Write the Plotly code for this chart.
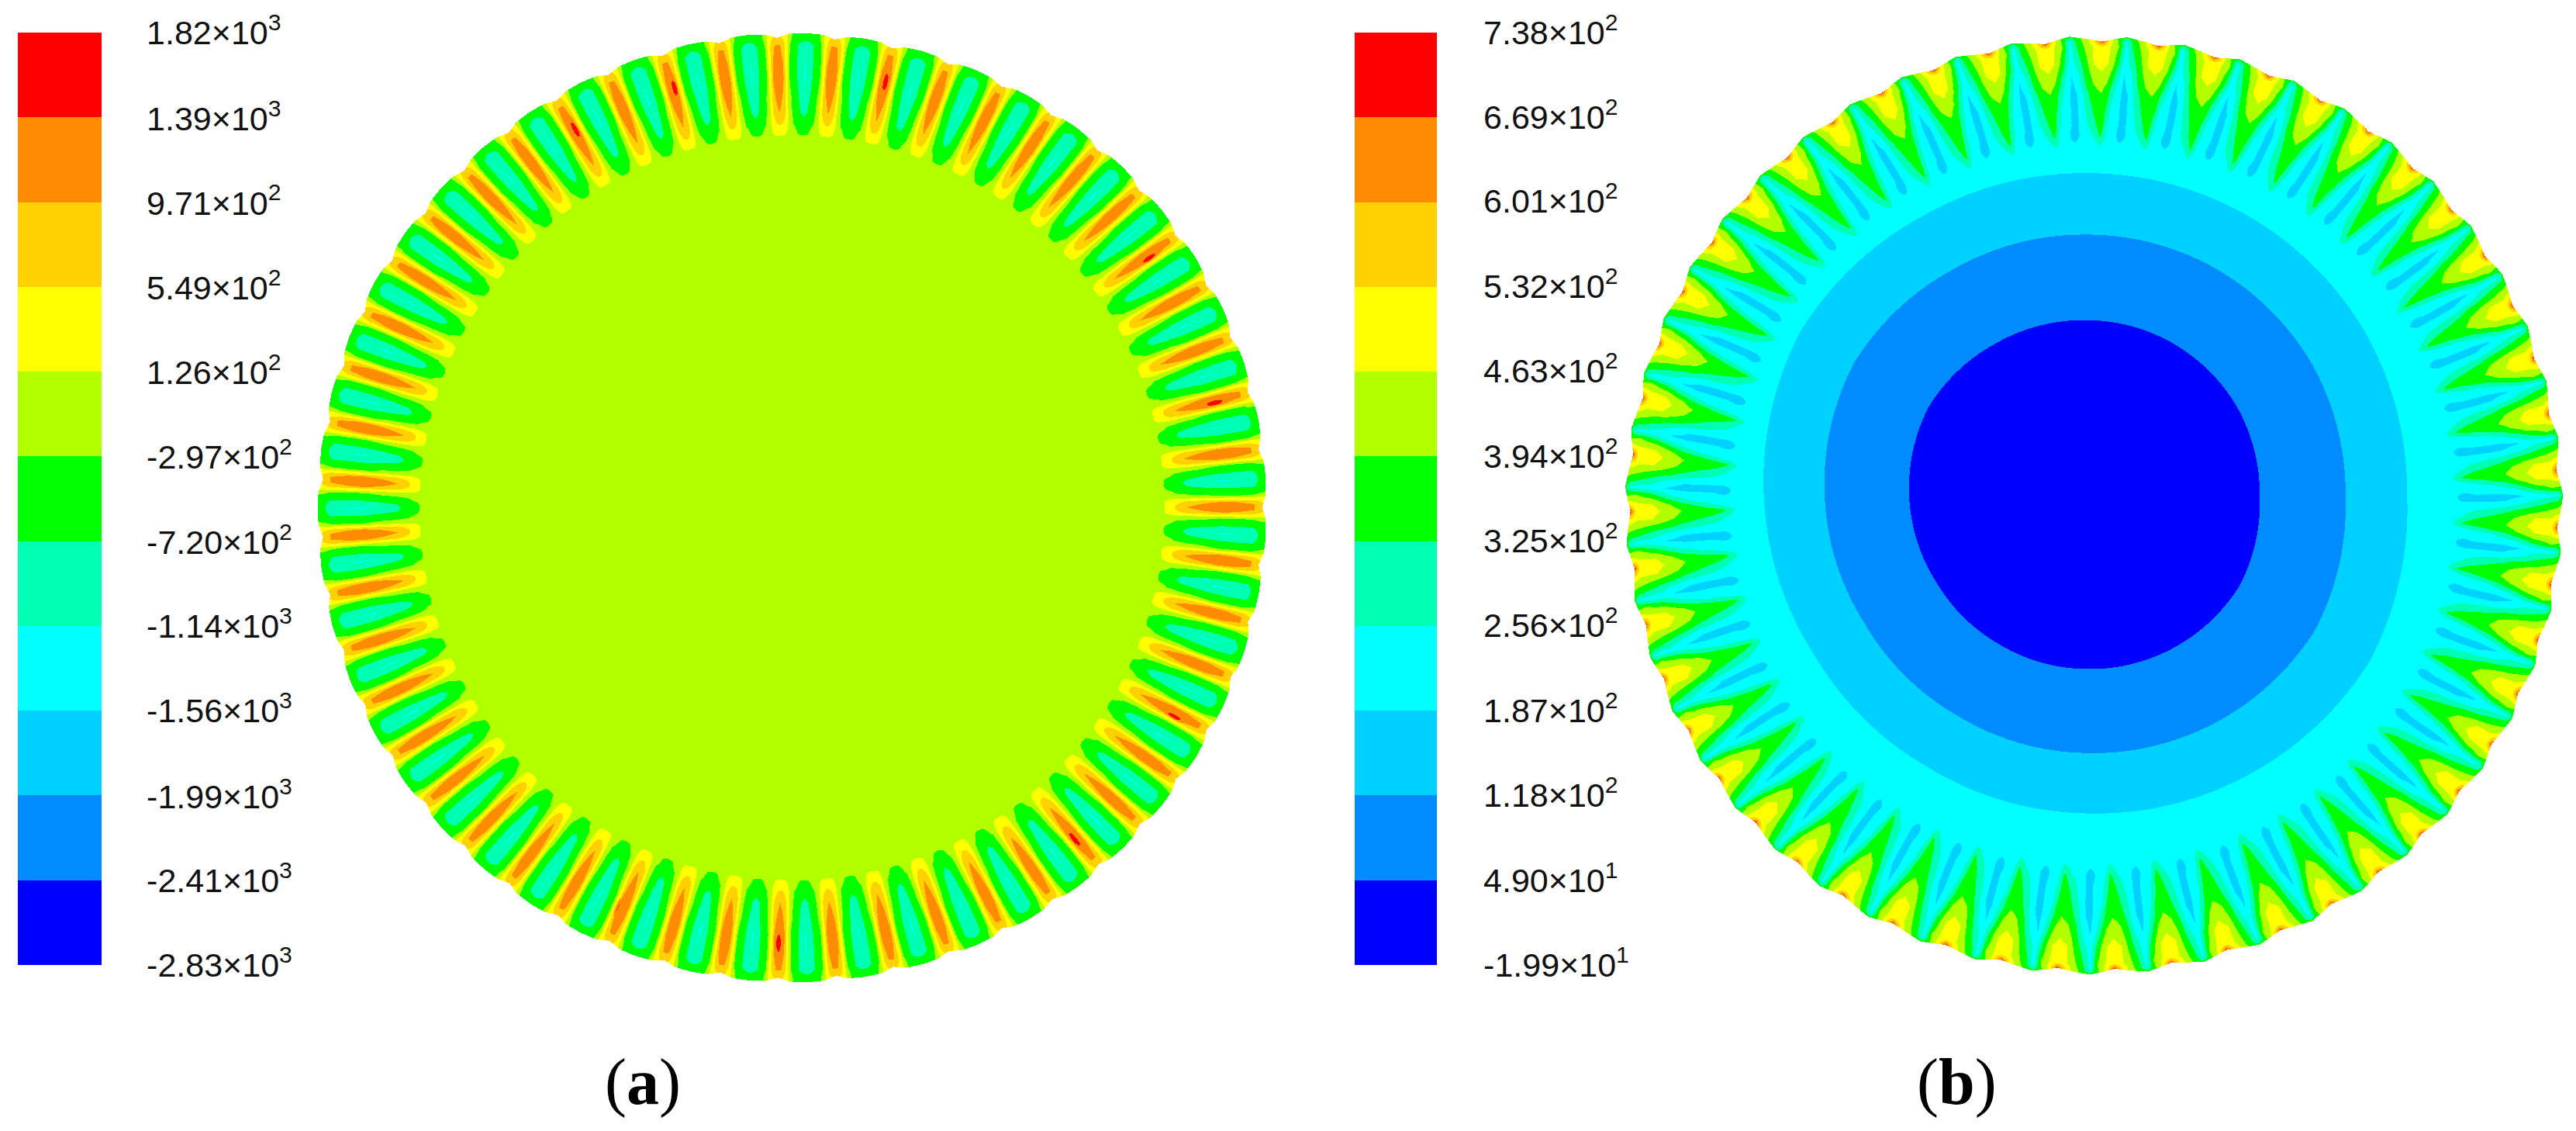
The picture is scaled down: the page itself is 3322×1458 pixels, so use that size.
import numpy as np
import plotly.graph_objects as go

WIDTH, HEIGHT = 3322, 1458

# --- legend data -----------------------------------------------------------
levels_a = [1820, 1390, 971, 549, 126, -297, -720, -1140, -1560, -1990, -2410, -2830]
labels_a = ["1.82×10<sup>3</sup>", "1.39×10<sup>3</sup>", "9.71×10<sup>2</sup>", "5.49×10<sup>2</sup>",
            "1.26×10<sup>2</sup>", "-2.97×10<sup>2</sup>", "-7.20×10<sup>2</sup>", "-1.14×10<sup>3</sup>",
            "-1.56×10<sup>3</sup>", "-1.99×10<sup>3</sup>", "-2.41×10<sup>3</sup>", "-2.83×10<sup>3</sup>"]
levels_b = [738, 669, 601, 532, 463, 394, 325, 256, 187, 118, 49, -19.9]
labels_b = ["7.38×10<sup>2</sup>", "6.69×10<sup>2</sup>", "6.01×10<sup>2</sup>", "5.32×10<sup>2</sup>",
            "4.63×10<sup>2</sup>", "3.94×10<sup>2</sup>", "3.25×10<sup>2</sup>", "2.56×10<sup>2</sup>",
            "1.87×10<sup>2</sup>", "1.18×10<sup>2</sup>", "4.90×10<sup>1</sup>", "-1.99×10<sup>1</sup>"]
band_colors = ["#0000ff", "#008bff", "#00d1ff", "#00ffff", "#00ffb2", "#00ff00",
               "#b2ff00", "#ffff00", "#ffd100", "#ff8b00", "#ff0000"]  # low to high

# --- panel (a): one blade passage -------------------------------------------
n_passages = 51
first_passage_deg_a = 1.7        # clockwise from 12 o'clock
radii_a = [474, 482, 495, 510, 530, 553, 575, 596, 606, 616]
phase_a = [0, .07, .14, .21, .285, .32, .37, .40, .45, .5]   # 0 passage centre, .5 ridge
passage_a = [
    [0, 0, 0, 0, 0, 0, 0, 0, 0, 0],
    [-380, -340, -250, -120, -50, 60, 130, 160, 170, 170],
    [-620, -540, -380, -300, -120, 120, 320, 450, 560, 600],
    [-780, -720, -520, -340, -220, 130, 520, 700, 900, 980],
    [-1000, -850, -620, -350, -250, 140, 560, 900, 1020, 1100],
    [-1180, -950, -720, -430, -297, 126, 549, 971, 1150, 1250],
    [-1150, -950, -740, -440, -297, 130, 549, 950, 1100, 1200],
    [-900, -850, -720, -420, -280, 130, 500, 800, 980, 1000],
    [-600, -560, -500, -380, -200, 130, 300, 500, 650, 700],
    [-420, -400, -380, -340, -150, 120, 260, 350, 420, 450],
]
rim_phase_a = [0, .285, .5]
rim_radius_a = [612, 611, 606]
hot_spot_deg_a = [12.4, 344.4, 330.2, 55.1, 76.1, 118.7, 139.6, 181.8, 203.7]

# --- panel (b) --------------------------------------------------------------
first_wedge_deg_b = 1.0
radii_b = [455, 466, 478, 490, 510, 531, 550, 570, 591, 598, 604, 612]
phase_b = [0, .12, .2, .3, .43, .55, .7, .85, 1]      # 0 and 1 wedge centre, .43 ray
passage_b = [
    [210, 210, 210, 210, 210, 210, 210, 210, 210],
    [270, 225, 220, 215, 205, 215, 220, 230, 270],
    [340, 245, 225, 215, 115, 195, 225, 265, 340],
    [365, 265, 230, 220, 165, 190, 245, 305, 365],
    [380, 310, 240, 225, 165, 190, 270, 335, 380],
    [392, 350, 285, 225, 168, 192, 300, 370, 392],
    [440, 405, 350, 265, 180, 225, 340, 410, 440],
    [490, 465, 420, 340, 215, 285, 365, 465, 490],
    [510, 480, 440, 395, 225, 325, 405, 470, 510],
    [690, 520, 450, 385, 240, 340, 420, 510, 690],
    [700, 520, 440, 370, 330, 370, 440, 520, 700],
    [700, 520, 440, 370, 330, 370, 440, 520, 700],
]
rim_phase_b = [0, .43, 1]
rim_radius_b = [598, 605, 598]
core_radii_b = [0, 226, 336, 415, 470]
core_values_b = [-10, 49, 118, 187, 215]
core_shape_deg_b = [0, 30, 60, 90, 120, 150, 180, 210, 240, 270, 300, 330, 360]
core_shape_b = [283, 285, 286, 284, 290, 284, 278, 274, 274, 280, 287, 283, 283]


def lookup(rows, cols, table, r, c):
    """Read the passage table at radius r and phase c."""
    rows, cols, table = np.asarray(rows, float), np.asarray(cols, float), np.asarray(table, float)
    r = np.clip(r, rows[0], rows[-1])
    c = np.clip(c, cols[0], cols[-1])
    i = np.clip(np.searchsorted(rows, r) - 1, 0, len(rows) - 2)
    j = np.clip(np.searchsorted(cols, c) - 1, 0, len(cols) - 2)
    fr = (r - rows[i]) / (rows[i + 1] - rows[i])
    fc = (c - cols[j]) / (cols[j + 1] - cols[j])
    return (table[i, j] * (1 - fr) * (1 - fc) + table[i + 1, j] * fr * (1 - fc)
            + table[i, j + 1] * (1 - fr) * fc + table[i + 1, j + 1] * fr * fc)


STEP = 1.0
grid_a = np.arange(-640, 640 + STEP, STEP)
grid_b = np.arange(-620, 620 + STEP, STEP)
pitch = 360.0 / n_passages


def field_a():
    X, Y = np.meshgrid(grid_a, grid_a)
    r = np.hypot(X, Y)
    th = np.degrees(np.arctan2(X, Y)) % 360
    u = ((th - first_passage_deg_a) / pitch + 0.5) % 1 - 0.5
    au = np.abs(u)
    z = lookup(radii_a, phase_a, passage_a, r, au)
    for deg in hot_spot_deg_a:
        dth = (th - deg + 180) % 360 - 180
        spot = np.clip(1 - np.hypot((r - 562) / 14, dth * np.pi / 180 * 560 / 4), 0, 1)
        z = z + 420 * np.minimum(spot * 2, 1)
    z[r > np.interp(au, rim_phase_a, rim_radius_a)] = np.nan
    return z


def field_b():
    X, Y = np.meshgrid(grid_b, grid_b)
    r = np.hypot(X, Y)
    th = np.degrees(np.arctan2(X, Y)) % 360
    u = ((th - first_wedge_deg_b) / pitch) % 1
    z = lookup(radii_b, phase_b, passage_b, r, u)
    Xc, Yc = X + 14, Y - 12
    rc = np.hypot(Xc, Yc)
    thc = np.degrees(np.arctan2(Xc, Yc)) % 360
    shape = np.interp(thc, core_shape_deg_b, core_shape_b) / 282.0
    core = np.interp(rc / shape, core_radii_b, core_values_b)
    z = np.where(r < 455, core, z)
    z[r > np.interp(u, rim_phase_b, rim_radius_b)] = np.nan
    return z


def stepped_scale(colors):
    n = len(colors)
    scale = []
    for k, col in enumerate(colors):
        scale += [[k / n, col], [(k + 1) / n, col]]
    return scale


def bar(x_left, width, levels, labels, pad):
    return dict(
        x=x_left / WIDTH, xanchor="left", xref="paper",
        y=(HEIGHT - 1244) / HEIGHT, yanchor="bottom", yref="paper",
        thickness=width, thicknessmode="pixels",
        len=1202, lenmode="pixels", xpad=0, ypad=0,
        outlinewidth=0, borderwidth=0,
        tickmode="array", tickvals=levels, ticktext=labels,
        ticks="outside", ticklen=pad, tickwidth=1, tickcolor="rgba(255,255,255,0)",
        tickfont=dict(family="Liberation Sans", size=43, color="#111111"),
    )


def field_trace(x, z, levels, labels, xaxis, yaxis, bar_x, bar_w, pad):
    return go.Heatmap(
        x=x, y=x, z=z.astype("float32"), xaxis=xaxis, yaxis=yaxis,
        zmin=levels[-1], zmax=levels[0], zauto=False,
        colorscale=stepped_scale(band_colors),
        hoverinfo="skip", colorbar=bar(bar_x, bar_w, levels, labels, pad),
    )


fig = go.Figure()
fig.add_trace(field_trace(grid_a, field_a(), levels_a, labels_a, "x", "y", 23, 108, 50))
fig.add_trace(field_trace(grid_b, field_b(), levels_b, labels_b, "x2", "y2", 1747, 106, 52))


def panel_axes(cx, cy, half):
    top = HEIGHT - cy
    xd = [(cx - half) / WIDTH, (cx + half) / WIDTH]
    yd = [(top - half) / HEIGHT, (top + half) / HEIGHT]
    common = dict(visible=False, range=[-half, half], fixedrange=True)
    return dict(common, domain=xd), dict(common, domain=yd)


xa, ya = panel_axes(1021, 654, 640)
xb, yb = panel_axes(2700, 651, 620)

caption_font = dict(family="Liberation Serif", size=84, color="#000000")
fig.update_layout(
    width=WIDTH, height=HEIGHT, autosize=False,
    margin=dict(l=0, r=0, t=0, b=0, pad=0, autoexpand=False),
    paper_bgcolor="white", plot_bgcolor="rgba(0,0,0,0)",
    showlegend=False,
    xaxis=dict(xa, anchor="y"), yaxis=dict(ya, anchor="x"),
    xaxis2=dict(xb, anchor="y2"), yaxis2=dict(yb, anchor="x2"),
    annotations=[
        dict(text="(<b>a</b>)", x=829 / WIDTH, y=(HEIGHT - 1395) / HEIGHT, xref="paper", yref="paper",
             showarrow=False, font=caption_font, xanchor="center", yanchor="middle"),
        dict(text="(<b>b</b>)", x=2523 / WIDTH, y=(HEIGHT - 1395) / HEIGHT, xref="paper", yref="paper",
             showarrow=False, font=caption_font, xanchor="center", yanchor="middle"),
    ],
)

fig.write_html("out.html", config={"displayModeBar": False},
               post_script="document.body.style.margin='0';")
